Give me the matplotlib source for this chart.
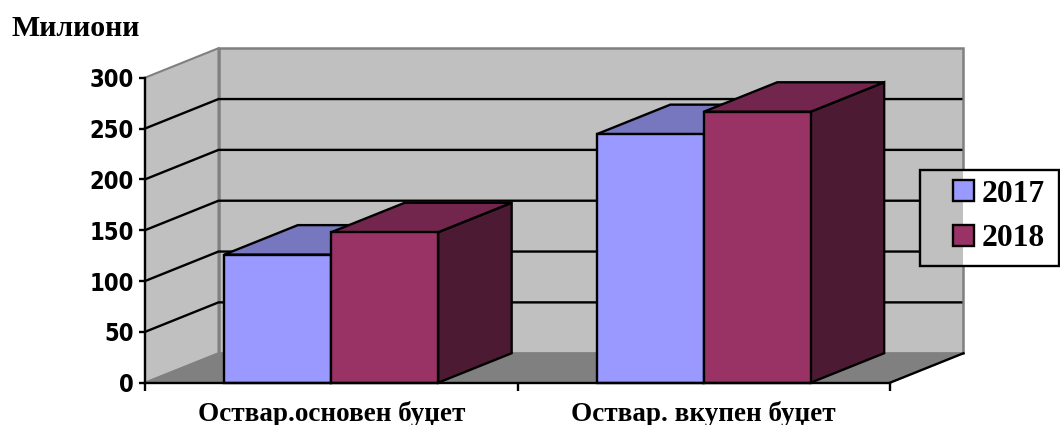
import matplotlib
matplotlib.use("Agg")
import matplotlib.pyplot as plt
from matplotlib.patches import Polygon, Patch, Rectangle

categories = ["Оствар.основен буџет", "Оствар. вкупен буџет"]
series_names = ["2017", "2018"]
values_2017 = [126, 244.5]
values_2018 = [148, 266.5]
y_ticks = [0, 50, 100, 150, 200, 250, 300]

front_colors = ["#9999FF", "#993366"]
top_colors = ["#7777BF", "#73264D"]
side_colors = ["#3A3A60", "#4D1A33"]

W, H = 1060, 425
fig = plt.figure(figsize=(W / 100, H / 100), dpi=100)
ax = fig.add_axes([145 / W, 1 - 382.7 / H, (890 - 145) / W, 305 / H])
ax.set_xlim(0, 2)
ax.set_ylim(0, 300)

DX = 73.5 / 372.5   # depth in x data units
DY = 29.0           # depth in y data units
LW = 1.7
XMAX, YMAX = 2, 300

# walls and floor
ax.add_patch(Polygon([(0, 0), (DX, DY), (DX, YMAX + DY), (0, YMAX)], closed=True, fc="#C0C0C0",
                     ec="#808080", lw=1.5, clip_on=False, zorder=1))
ax.add_patch(Polygon([(DX, DY), (XMAX + DX, DY), (XMAX + DX, YMAX + DY), (DX, YMAX + DY)], closed=True,
                     fc="#C0C0C0", ec="#808080", lw=1.8, clip_on=False, zorder=1))
ax.add_patch(Polygon([(0, 0), (XMAX, 0), (XMAX + DX, DY), (DX, DY)], closed=True, fc="#808080",
                     ec="#808080", lw=1, clip_on=False, zorder=1))
ax.plot([XMAX, XMAX + DX], [0, DY], color="black", lw=LW, clip_on=False, zorder=2)

# gridlines
for v in y_ticks[1:-1]:
    ax.plot([0, DX, XMAX + DX - 0.006], [v, v + DY, v + DY], color="black", lw=LW,
            clip_on=False, zorder=2, solid_joinstyle="miter")

# legend background hides the gridlines behind it
lx0 = (919.5 - 145) / 372.5
lx1 = (1059 - 145) / 372.5
ly0 = (382.7 - 265.5) / 305 * 300
ly1 = (382.7 - 169.5) / 305 * 300
ax.add_patch(Rectangle((lx0, ly0), XMAX + DX - lx0, ly1 - ly0, fc="#C0C0C0", ec="none",
                       clip_on=False, zorder=6))
ax.add_patch(Rectangle((XMAX + DX, ly0), lx1 - XMAX - DX, ly1 - ly0, fc="white", ec="none",
                       clip_on=False, zorder=6))
ax.add_patch(Rectangle((lx0, ly0), lx1 - lx0, ly1 - ly0, fc="none", ec="black", lw=LW,
                       clip_on=False, zorder=7))

# bars
bw = 0.287
z = 10
for i in range(len(categories)):
    center = i + 0.5
    for s, vals in enumerate([values_2017, values_2018]):
        x0 = center - bw + s * bw
        x1 = x0 + bw
        v = vals[i]
        ax.add_patch(Polygon([(x1, 0), (x1 + DX, DY), (x1 + DX, v + DY), (x1, v)], closed=True,
                             fc=side_colors[s], ec="black", lw=LW, clip_on=False, zorder=z))
        ax.add_patch(Polygon([(x0, v), (x0 + DX, v + DY), (x1 + DX, v + DY), (x1, v)], closed=True,
                             fc=top_colors[s], ec="black", lw=LW, clip_on=False, zorder=z))
        ax.bar(x0, v, width=bw, align="edge", color=front_colors[s], edgecolor="black",
               linewidth=LW, zorder=z + 1, clip_on=False)
        z += 2

# axes
ax.patch.set_visible(False)
for side in ("top", "right"):
    ax.spines[side].set_visible(False)
for side in ("left", "bottom"):
    ax.spines[side].set_linewidth(LW)
    ax.spines[side].set_zorder(40)

ax.set_yticks(y_ticks)
ax.tick_params(axis="y", length=4, width=LW, pad=4)
for t in ax.get_yticklabels():
    t.set_fontfamily("DejaVu Sans")
    t.set_fontweight("bold")
    t.set_fontstretch("condensed")
    t.set_fontsize(17)

ax.set_xticks([0, 1, 2])
ax.set_xticklabels([])
ax.tick_params(axis="x", which="major", length=6, width=LW)
ax.set_xticks([0.5, 1.5], minor=True)
ax.set_xticklabels(categories, minor=True, fontfamily="Liberation Serif", fontweight="bold", fontsize=19.5)
ax.tick_params(axis="x", which="minor", length=0, pad=13)

# title
fig.text(12 / W, 1 - 28.5 / H, "Милиони", fontfamily="Liberation Serif", fontweight="bold",
         fontsize=21.5, ha="left", va="center")

# legend
handles = [Patch(fc=front_colors[k], ec="black", lw=LW, label=series_names[k]) for k in range(2)]
leg = ax.legend(handles=handles, loc="center left", bbox_to_anchor=(953 / W, 1 - 216.5 / H),
                bbox_transform=fig.transFigure, frameon=False, borderpad=0, borderaxespad=0,
                prop={"family": "Liberation Serif", "weight": "bold", "size": 22.7},
                handlelength=0.68, handleheight=0.68, handletextpad=0.22, labelspacing=0.5)
leg.set_zorder(50)

fig.savefig("out.png", dpi=100)
